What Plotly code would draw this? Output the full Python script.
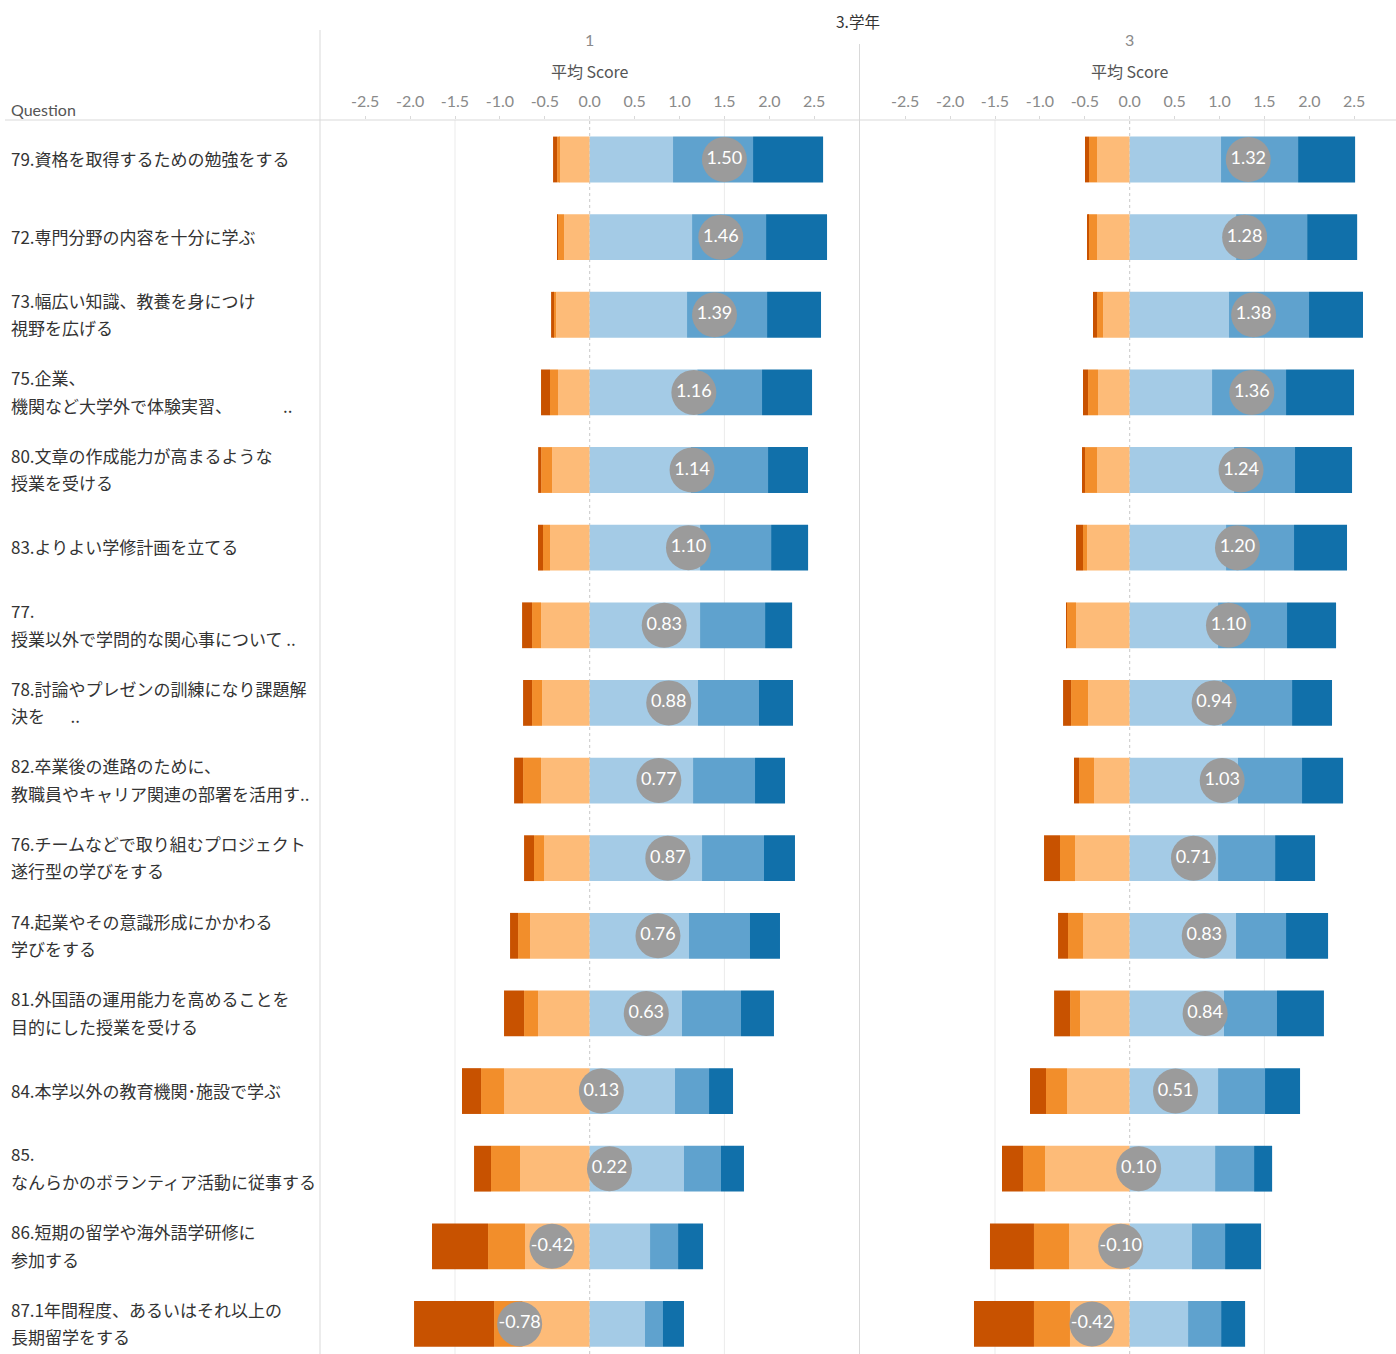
import plotly.graph_objects as go

# ---------------- data ----------------
questions = [
    "79.資格を取得するための勉強をする",
    "72.専門分野の内容を十分に学ぶ",
    "73.幅広い知識、教養を身につけ\n視野を広げる",
    "75.企業、\n機関など大学外で体験実習、\u3000\u3000\u3000\u2002..",
    "80.文章の作成能力が高まるような\n授業を受ける",
    "83.よりよい学修計画を立てる",
    "77.\n授業以外で学問的な関心事について ..",
    "78.討論やプレゼンの訓練になり課題解\n決を\u3000\u2002..",
    "82.卒業後の進路のために、\n教職員やキャリア関連の部署を活用す..",
    "76.チームなどで取り組むプロジェクト\n遂行型の学びをする",
    "74.起業やその意識形成にかかわる\n学びをする",
    "81.外国語の運用能力を高めることを\n目的にした授業を受ける",
    "84.本学以外の教育機関･施設で学ぶ",
    "85.\nなんらかのボランティア活動に従事する",
    "86.短期の留学や海外語学研修に\n参加する",
    "87.1年間程度、あるいはそれ以上の\n長期留学をする",
]

grades = ["1", "3"]

# grade 1 segment widths (score units)
g1_strong_neg = [0.045, 0.007, 0.022, 0.100, 0.033, 0.056, 0.111, 0.100, 0.100, 0.111, 0.089, 0.223, 0.212, 0.189, 0.624, 0.891]
g1_neg        = [0.022, 0.071, 0.033, 0.089, 0.122, 0.078, 0.100, 0.111, 0.200, 0.111, 0.134, 0.156, 0.256, 0.323, 0.412, 0.319]
g1_weak_neg   = [0.341, 0.286, 0.375, 0.353, 0.419, 0.442, 0.542, 0.531, 0.542, 0.509, 0.664, 0.575, 0.954, 0.776, 0.720, 0.746]
g1_weak_pos   = [0.928, 1.140, 1.084, 1.198, 1.124, 1.229, 1.229, 1.206, 1.151, 1.251, 1.106, 1.028, 0.950, 1.050, 0.672, 0.616]
g1_pos        = [0.891, 0.824, 0.891, 0.721, 0.862, 0.791, 0.724, 0.679, 0.690, 0.690, 0.679, 0.657, 0.379, 0.412, 0.312, 0.200]
g1_strong_pos = [0.780, 0.679, 0.601, 0.557, 0.445, 0.412, 0.301, 0.379, 0.334, 0.345, 0.334, 0.367, 0.267, 0.256, 0.278, 0.234]
g1_mean       = [1.50, 1.46, 1.39, 1.16, 1.14, 1.10, 0.83, 0.88, 0.77, 0.87, 0.76, 0.63, 0.13, 0.22, -0.42, -0.78]

# grade 3 segment widths (score units)
g3_strong_neg = [0.045, 0.011, 0.045, 0.056, 0.033, 0.078, 0.007, 0.089, 0.056, 0.178, 0.111, 0.178, 0.178, 0.234, 0.490, 0.668]
g3_neg        = [0.089, 0.100, 0.067, 0.111, 0.134, 0.045, 0.104, 0.189, 0.167, 0.167, 0.167, 0.111, 0.234, 0.245, 0.390, 0.401]
g3_weak_neg   = [0.364, 0.364, 0.297, 0.353, 0.364, 0.475, 0.598, 0.464, 0.397, 0.609, 0.520, 0.553, 0.698, 0.943, 0.676, 0.665]
g3_weak_pos   = [1.017, 1.185, 1.106, 0.917, 1.162, 1.073, 0.984, 1.028, 1.206, 0.984, 1.184, 1.050, 0.984, 0.951, 0.694, 0.650]
g3_pos        = [0.858, 0.791, 0.891, 0.824, 0.679, 0.757, 0.768, 0.780, 0.713, 0.635, 0.557, 0.590, 0.523, 0.434, 0.368, 0.368]
g3_strong_pos = [0.635, 0.557, 0.601, 0.757, 0.635, 0.590, 0.546, 0.445, 0.457, 0.445, 0.468, 0.523, 0.390, 0.201, 0.401, 0.267]
g3_mean       = [1.32, 1.28, 1.38, 1.36, 1.24, 1.20, 1.10, 0.94, 1.03, 0.71, 0.83, 0.84, 0.51, 0.10, -0.10, -0.42]

tick_vals = [-2.5, -2.0, -1.5, -1.0, -0.5, 0.0, 0.5, 1.0, 1.5, 2.0, 2.5]
tick_text = ["-2.5", "-2.0", "-1.5", "-1.0", "-0.5", "0.0", "0.5", "1.0", "1.5", "2.0", "2.5"]
grid_vals = [-1.5, 1.5]

# ---------------- styling ----------------
W, H = 1396, 1354
TOP = 120
C_SNEG, C_NEG, C_WNEG = "#C85200", "#F28E2B", "#FDBB78"
C_WPOS, C_POS, C_SPOS = "#A4CBE6", "#5FA2CE", "#1170AA"
CIRCLE = "#9B9B9B"
FONT = "Lato"
JP = "Noto Sans CJK JP"

rows = list(range(len(questions)))

fig = go.Figure()

panels = [
    ("x", (g1_strong_neg, g1_neg, g1_weak_neg, g1_weak_pos, g1_pos, g1_strong_pos, g1_mean)),
    ("x2", (g3_strong_neg, g3_neg, g3_weak_neg, g3_weak_pos, g3_pos, g3_strong_pos, g3_mean)),
]

for xa, (sn, n, wn, wp, p, sp, mean) in panels:
    # negative side, stacked outward from zero
    for vals, col in [(wn, C_WNEG), (n, C_NEG), (sn, C_SNEG)]:
        fig.add_trace(go.Bar(x=[-v for v in vals], y=rows, orientation="h", width=0.59,
                             marker=dict(color=col, line=dict(width=0)),
                             xaxis=xa, yaxis="y", showlegend=False, hoverinfo="x"))
    for vals, col in [(wp, C_WPOS), (p, C_POS), (sp, C_SPOS)]:
        fig.add_trace(go.Bar(x=vals, y=rows, orientation="h", width=0.59,
                             marker=dict(color=col, line=dict(width=0)),
                             xaxis=xa, yaxis="y", showlegend=False, hoverinfo="x"))
    fig.add_trace(go.Scatter(x=mean, y=rows, mode="markers+text",
                             marker=dict(size=45, color=CIRCLE, line=dict(width=0)),
                             text=[f"{v:.2f}" for v in mean], textposition="middle center",
                             textfont=dict(color="white", size=18, family=FONT),
                             xaxis=xa, yaxis="y", showlegend=False, cliponaxis=False))

# axis ranges derived from pixel geometry (89.8 px per unit)
PXU = 89.8
d1 = (320 / W, 859 / W)
d2 = (860 / W, 1.0)
r1 = [(320 - 589.7) / PXU, (859 - 589.7) / PXU]
r2 = [(860 - 1129.7) / PXU, (1396 - 1129.7) / PXU]

axis_common = dict(side="top", tickvals=tick_vals, ticktext=tick_text, showgrid=False,
                   zeroline=False, showline=False, ticks="outside", ticklen=3,
                   ticklabelstandoff=3,
                   tickcolor="#D9D9D9", tickfont=dict(size=16, color="#8A8A8A", family=FONT),
                   fixedrange=True)
fig.update_layout(
    xaxis=dict(domain=list(d1), range=r1, anchor="y", **axis_common),
    xaxis2=dict(domain=list(d2), range=r2, anchor="y", **axis_common),
    yaxis=dict(range=[(H - 159.5) / 77.63, (TOP - 159.5) / 77.63], showticklabels=False,
               showgrid=False, zeroline=False, showline=False, fixedrange=True),
    barmode="relative",
    width=W, height=H,
    margin=dict(l=0, r=0, t=TOP, b=0, pad=0),
    plot_bgcolor="white", paper_bgcolor="white",
    showlegend=False,
)

shapes = []
# grid lines and zero lines
for xr in ["x", "x2"]:
    for g in grid_vals:
        shapes.append(dict(type="line", xref=xr, yref="paper", x0=g, x1=g, y0=0, y1=1,
                           line=dict(color="#EBEBEB", width=1), layer="below"))
    shapes.append(dict(type="line", xref=xr, yref="paper", x0=0, x1=0, y0=0, y1=1,
                       line=dict(color="#C8C8C8", width=1, dash="dot"), layer="below"))
# header rule
shapes.append(dict(type="line", xref="paper", yref="paper", x0=5 / W, x1=1, y0=1, y1=1,
                   line=dict(color="#D9D9D9", width=1)))
# panel dividers
ph = H - TOP
shapes.append(dict(type="line", xref="paper", yref="paper", x0=320 / W, x1=320 / W,
                   y0=0, y1=(H - 30) / ph, line=dict(color="#D9D9D9", width=1)))
shapes.append(dict(type="line", xref="paper", yref="paper", x0=859.5 / W, x1=859.5 / W,
                   y0=0, y1=(H - 44) / ph, line=dict(color="#D9D9D9", width=1)))
fig.update_layout(shapes=shapes)

def py(p):
    return (H - p) / ph

ann = []
ann.append(dict(text="3.学年", x=858 / W, y=py(21), xref="paper", yref="paper",
                showarrow=False, xanchor="center", yanchor="middle",
                font=dict(size=15.5, color="#333333", family=JP)))
for g, cx in zip(grades, [589.7, 1129.7]):
    ann.append(dict(text=g, x=cx / W, y=py(40), xref="paper", yref="paper", showarrow=False,
                    xanchor="center", yanchor="middle", font=dict(size=16, color="#8A8A8A", family=FONT)))
    ann.append(dict(text="平均 Score", x=cx / W, y=py(71), xref="paper", yref="paper",
                    showarrow=False, xanchor="center", yanchor="middle",
                    font=dict(size=16, color="#555555", family=JP)))
ann.append(dict(text="Question", x=9 / W, y=py(110), xref="paper", yref="paper", showarrow=False,
                xanchor="left", yanchor="middle", font=dict(size=16, color="#555555", family=FONT)))

for i, q in enumerate(questions):
    lines = q.split("\n")
    n = len(lines)
    for j, line in enumerate(lines):
        ann.append(dict(text=line, x=9 / W, y=i, xref="paper", yref="y", showarrow=False,
                        xanchor="left", yanchor="middle", yshift=((n - 1) / 2 - j) * 27.5 + 1,
                        font=dict(size=17, color="#333333", family=JP)))
fig.update_layout(annotations=ann)

fig.write_html("out.html", config={"displayModeBar": False},
               post_script="document.body.style.margin='0';")
